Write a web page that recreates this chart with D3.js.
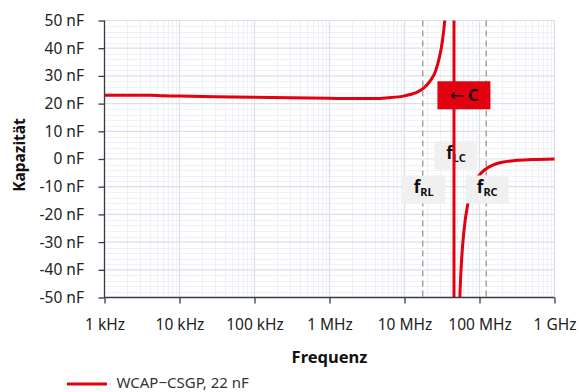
<!DOCTYPE html>
<html><head><meta charset="utf-8">
<script src="https://cdn.jsdelivr.net/npm/d3@7"></script>
<style>body{margin:0;background:#fff} svg{display:block} text{font-family:"Noto Sans",sans-serif}</style>
</head><body><svg id="c" width="579" height="392"></svg>
<script>
// ---- data ----
const posFreq = [1e3, 2e3, 4e3, 6e3, 1e4, 3e4, 1e5, 3e5, 1e6, 2e6, 4e6, 6e6, 1e7, 1.4e7, 1.8e7, 2.2e7, 2.6e7, 2.9e7, 3.2e7, 3.5e7, 3.8e7, 4.1e7];
const posCap  = [23.0, 23.0, 23.0, 22.8, 22.7, 22.5, 22.3, 22.1, 21.9, 21.8, 21.8, 22.1, 22.8, 23.9, 25.6, 28.2, 31.8, 36.3, 42.5, 52.5, 70, 110];
const negFreq = [5.2e7, 5.5e7, 5.8e7, 6.2e7, 7e7, 8e7, 1e8, 1.2e8, 1.5e8, 2e8, 3e8, 5e8, 1e9];
const negCap  = [-74, -48, -35.5, -26, -16, -10.5, -5.7, -3.7, -2.2, -1.2, -0.5, -0.2, 0];
const xTicks = [1e3, 1e4, 1e5, 1e6, 1e7, 1e8, 1e9];
const xTickLabels = ["1 kHz", "10 kHz", "100 kHz", "1 MHz", "10 MHz", "100 MHz", "1 GHz"];
const yTicks = [-50, -40, -30, -20, -10, 0, 10, 20, 30, 40, 50];
const yTickLabels = ["-50 nF", "-40 nF", "-30 nF", "-20 nF", "-10 nF", "0 nF", "10 nF", "20 nF", "30 nF", "40 nF", "50 nF"];
const markerNames = ["RL", "LC", "RC"];
const markerFreqs = [1.75e7, 4.57e7, 1.23e8];
const markerLabelCap = [-11, 1.3, -11];
const arrowGlyph = "←", arrowText = "C";
const arrowFreq = 6.2e7, arrowCap = 23;
const seriesName = "WCAP−CSGP, 22 nF";
const xTitle = "Frequenz", yTitle = "Kapazität";

// ---- drawing ----
const RED = "#e3000f";
const svg = d3.select("#c");
const L = 104.5, R = 554.5, T = 20.5, B = 297.5;
const x = d3.scaleLog().domain([1e3, 1e9]).range([L, R]);
const y = d3.scaleLinear().domain([-50, 50]).range([B, T]);

// grid
const g = svg.append("g");
const minorX = [];
for (let d = 1e3; d < 1e9; d *= 10) for (let k = 2; k <= 9; k++) minorX.push(k * d);
g.selectAll(".mx").data(minorX).join("line")
  .attr("x1", d => Math.round(x(d)) + 0.5).attr("x2", d => Math.round(x(d)) + 0.5)
  .attr("y1", T).attr("y2", B).attr("stroke", "#eef1f5").attr("stroke-width", 1);
const minorY = d3.range(-48, 50, 2).filter(v => v % 10 !== 0);
g.selectAll(".my").data(minorY).join("line")
  .attr("x1", L).attr("x2", R)
  .attr("y1", d => Math.round(y(d)) + 0.5).attr("y2", d => Math.round(y(d)) + 0.5)
  .attr("stroke", "#eef1f5").attr("stroke-width", 1);
g.selectAll(".Mx").data(xTicks).join("line")
  .attr("x1", d => x(d)).attr("x2", d => x(d))
  .attr("y1", T).attr("y2", B).attr("stroke", "#dbe0e8").attr("stroke-width", 1.2);
g.selectAll(".My").data(yTicks).join("line")
  .attr("x1", L).attr("x2", R)
  .attr("y1", d => y(d)).attr("y2", d => y(d)).attr("stroke", "#dbe0e8").attr("stroke-width", 1.2);

// dashed markers (fRL, fRC)
[markerFreqs[0], markerFreqs[2]].forEach(f => {
  svg.append("line").attr("x1", x(f)).attr("x2", x(f)).attr("y1", T).attr("y2", B)
    .attr("stroke", "#a3a3a3").attr("stroke-width", 1.5).attr("stroke-dasharray", "6,4");
});

// curve
svg.append("clipPath").attr("id", "clip").append("rect")
  .attr("x", L).attr("y", T).attr("width", R - L + 2).attr("height", B - T);
const line = d3.line().x(d => x(d[0])).y(d => y(d[1])).curve(d3.curveMonotoneX);
const cg = svg.append("g").attr("clip-path", "url(#clip)");
cg.append("path").attr("d", line(posFreq.map((f, i) => [f, posCap[i]])))
  .attr("fill", "none").attr("stroke", RED).attr("stroke-width", 3);
cg.append("path").attr("d", line(negFreq.map((f, i) => [f, negCap[i]])))
  .attr("fill", "none").attr("stroke", RED).attr("stroke-width", 3);

// label boxes
markerNames.forEach((n, i) => {
  const cx = x(markerFreqs[i]) + (i === 1 ? 2 : 1), cy = y(markerLabelCap[i]);
  svg.append("rect").attr("x", cx - 21.5).attr("y", cy - 14).attr("width", 43).attr("height", 28).attr("fill", "#f0f0f0");
  const t = svg.append("text").attr("x", cx).attr("y", cy + 4).attr("text-anchor", "middle")
    .attr("font-weight", "bold").attr("fill", "#111");
  t.append("tspan").attr("font-size", 17).text("f");
  t.append("tspan").attr("font-size", 11).attr("dy", 3).text(n);
});
// resonance line
svg.append("line").attr("x1", x(markerFreqs[1])).attr("x2", x(markerFreqs[1])).attr("y1", T).attr("y2", B)
  .attr("stroke", RED).attr("stroke-width", 3);
// C box
{
  const cx = x(arrowFreq), cy = y(arrowCap);
  svg.append("rect").attr("x", cx - 26.5).attr("y", cy - 14).attr("width", 53).attr("height", 28).attr("fill", RED);
  const t = svg.append("text").attr("x", cx).attr("y", cy + 5.5).attr("text-anchor", "middle")
    .attr("font-weight", "bold").attr("fill", "#111");
  t.append("tspan").attr("font-family", "DejaVu Sans").attr("font-weight", "normal").attr("font-size", 17).text(arrowGlyph);
  t.append("tspan").attr("font-size", 16).attr("dx", 4).text(arrowText);
}

// axes
const ax = svg.append("g").attr("transform", `translate(0,${B})`)
  .call(d3.axisBottom(x).tickValues(xTicks).tickFormat((d, i) => xTickLabels[i]).tickSize(6).tickPadding(15.5));
const ay = svg.append("g").attr("transform", `translate(${L},0)`)
  .call(d3.axisLeft(y).tickValues(yTicks).tickFormat((d, i) => yTickLabels[i]).tickSize(6).tickPadding(14.5));
[ax, ay].forEach(a => {
  a.select(".domain").attr("stroke", "#333b44").attr("stroke-width", 1.3);
  a.selectAll(".tick line").attr("stroke", "#333b44").attr("stroke-width", 1.3);
  a.selectAll("text").attr("font-family", "Noto Sans").attr("font-size", 15.5).attr("fill", "#222");
});
ay.select(".domain").attr("d", `M0,${T}V${B}`);
ax.select(".domain").attr("d", `M${L},0H${R}`);

// titles
svg.append("text").attr("x", (L + R) / 2).attr("y", 363).attr("text-anchor", "middle")
  .attr("font-weight", "bold").attr("font-size", 16.5).attr("fill", "#111").text(xTitle);
svg.append("text").attr("transform", `translate(24.5,155) rotate(-90)`).attr("text-anchor", "middle")
  .attr("font-weight", "bold").attr("font-size", 15.5).attr("fill", "#111").text(yTitle);

// legend
svg.append("line").attr("x1", 67).attr("x2", 107).attr("y1", 384).attr("y2", 384).attr("stroke", RED).attr("stroke-width", 3);
svg.append("text").attr("x", 116.5).attr("y", 388).attr("font-size", 15).attr("fill", "#333").text(seriesName);
</script></body></html>
